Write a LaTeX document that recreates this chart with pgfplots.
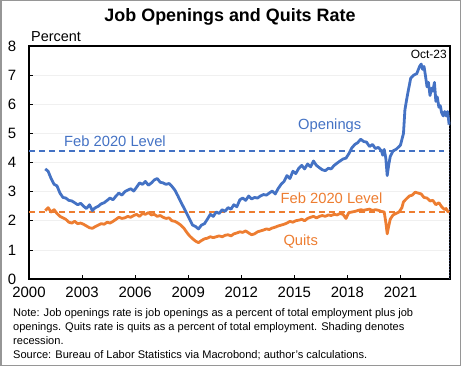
\documentclass[border=0pt]{standalone}
\usepackage{pgfplots}
\pgfplotsset{compat=1.18}
\usepackage{pgfplotstable}
\usepackage{fontspec}
\setmainfont{Liberation Sans}
\definecolor{cblue}{RGB}{68,114,196}
\definecolor{corange}{RGB}{237,125,49}
\definecolor{cframe}{RGB}{150,150,150}

\pgfplotstableread{
x y
2000.92 3.78
2001.08 3.70
2001.25 3.45
2001.42 3.25
2001.58 3.20
2001.75 2.95
2001.92 2.80
2002.08 2.78
2002.25 2.70
2002.42 2.68
2002.58 2.62
2002.75 2.55
2002.92 2.60
2003.08 2.50
2003.25 2.42
2003.42 2.55
2003.58 2.35
2003.75 2.45
2003.92 2.50
2004.08 2.58
2004.25 2.62
2004.42 2.70
2004.58 2.78
2004.75 2.72
2004.92 2.85
2005.08 2.95
2005.25 2.88
2005.42 3.00
2005.58 3.05
2005.75 3.10
2005.92 3.02
2006.08 3.15
2006.25 3.30
2006.42 3.25
2006.58 3.35
2006.75 3.22
2006.92 3.30
2007.08 3.40
2007.25 3.45
2007.42 3.32
2007.58 3.30
2007.75 3.25
2007.92 3.28
2008.08 3.18
2008.25 3.05
2008.42 2.85
2008.58 2.65
2008.75 2.45
2008.92 2.25
2009.08 2.05
2009.25 1.85
2009.42 1.80
2009.58 1.72
2009.75 1.85
2009.92 1.90
2010.08 2.05
2010.25 2.22
2010.42 2.15
2010.58 2.30
2010.75 2.25
2010.92 2.38
2011.08 2.32
2011.25 2.45
2011.42 2.40
2011.58 2.55
2011.75 2.48
2011.92 2.72
2012.08 2.78
2012.25 2.70
2012.42 2.85
2012.58 2.75
2012.75 2.80
2012.92 2.78
2013.08 2.85
2013.25 2.90
2013.42 2.88
2013.58 2.95
2013.75 3.02
2013.92 2.92
2014.08 3.10
2014.25 3.25
2014.42 3.35
2014.58 3.55
2014.75 3.45
2014.92 3.70
2015.08 3.62
2015.25 3.80
2015.42 3.90
2015.58 3.78
2015.75 3.95
2015.92 3.85
2016.08 4.05
2016.25 3.90
2016.42 3.82
2016.58 3.75
2016.75 3.72
2016.92 3.80
2017.08 3.78
2017.25 3.90
2017.42 3.98
2017.58 4.05
2017.75 4.12
2017.92 4.15
2018.08 4.30
2018.25 4.50
2018.42 4.62
2018.58 4.68
2018.75 4.80
2018.92 4.72
2019.08 4.70
2019.25 4.55
2019.42 4.62
2019.58 4.48
2019.75 4.52
2019.92 4.40
2020.00 4.25
2020.08 4.45
2020.17 4.15
2020.25 3.55
2020.33 3.90
2020.42 4.20
2020.58 4.40
2020.75 4.45
2020.92 4.55
2021.00 4.60
2021.17 5.00
2021.25 5.80
2021.33 6.10
2021.42 6.40
2021.58 6.90
2021.75 7.00
2021.92 7.05
2022.08 7.30
2022.17 7.38
2022.25 7.20
2022.33 7.30
2022.42 6.95
2022.50 6.60
2022.58 6.75
2022.67 6.30
2022.75 6.55
2022.83 6.45
2022.92 6.75
2023.00 6.10
2023.08 6.25
2023.17 5.90
2023.25 5.95
2023.33 5.70
2023.42 5.60
2023.50 5.75
2023.58 5.60
2023.67 5.75
2023.75 5.30
}\openings

\pgfplotstableread{
x y
2000.92 2.35
2001.08 2.45
2001.25 2.30
2001.42 2.38
2001.58 2.25
2001.75 2.15
2001.92 2.10
2002.08 2.05
2002.25 1.95
2002.42 1.92
2002.58 1.98
2002.75 1.90
2002.92 1.92
2003.08 1.88
2003.25 1.82
2003.42 1.76
2003.58 1.74
2003.75 1.80
2003.92 1.85
2004.08 1.90
2004.25 1.88
2004.42 1.95
2004.58 1.92
2004.75 1.98
2004.92 2.05
2005.08 2.12
2005.25 2.08
2005.42 2.10
2005.58 2.15
2005.75 2.12
2005.92 2.18
2006.08 2.22
2006.25 2.15
2006.42 2.25
2006.58 2.22
2006.75 2.28
2006.92 2.20
2007.08 2.22
2007.25 2.15
2007.42 2.18
2007.58 2.12
2007.75 2.08
2007.92 2.10
2008.08 2.00
2008.25 1.98
2008.42 1.92
2008.58 1.85
2008.75 1.75
2008.92 1.60
2009.08 1.48
2009.25 1.38
2009.42 1.30
2009.58 1.25
2009.75 1.32
2009.92 1.38
2010.08 1.40
2010.25 1.45
2010.42 1.42
2010.58 1.45
2010.75 1.48
2010.92 1.45
2011.08 1.50
2011.25 1.52
2011.42 1.48
2011.58 1.55
2011.75 1.58
2011.92 1.62
2012.08 1.60
2012.25 1.65
2012.42 1.58
2012.58 1.52
2012.75 1.55
2012.92 1.62
2013.08 1.65
2013.25 1.68
2013.42 1.72
2013.58 1.70
2013.75 1.75
2013.92 1.78
2014.08 1.82
2014.25 1.85
2014.42 1.88
2014.58 1.92
2014.75 1.98
2014.92 1.95
2015.08 2.00
2015.25 2.02
2015.42 2.05
2015.58 2.00
2015.75 2.08
2015.92 2.12
2016.08 2.15
2016.25 2.10
2016.42 2.15
2016.58 2.18
2016.75 2.15
2016.92 2.20
2017.08 2.18
2017.25 2.22
2017.42 2.20
2017.58 2.25
2017.75 2.22
2017.92 2.08
2018.08 2.28
2018.25 2.30
2018.42 2.32
2018.58 2.35
2018.75 2.38
2018.92 2.36
2019.08 2.38
2019.25 2.40
2019.42 2.35
2019.58 2.38
2019.75 2.36
2019.92 2.32
2020.08 2.30
2020.17 1.95
2020.25 1.55
2020.33 1.80
2020.42 2.05
2020.58 2.20
2020.75 2.25
2020.92 2.30
2021.08 2.45
2021.17 2.65
2021.33 2.75
2021.50 2.85
2021.67 2.88
2021.83 2.98
2022.00 2.95
2022.17 2.92
2022.33 2.80
2022.50 2.78
2022.67 2.68
2022.83 2.70
2023.00 2.55
2023.17 2.62
2023.33 2.48
2023.50 2.38
2023.58 2.42
2023.67 2.32
2023.75 2.30
}\quits

\begin{document}
\begin{tikzpicture}[x=1bp,y=1bp]
\useasboundingbox (0,0) rectangle (461,366);
\draw[cframe, line width=1.5bp] (0.75,0.75) rectangle (460.25,365.25);
\node[font=\bfseries\fontsize{18}{21}\selectfont] at (230,349) {Job Openings and Quits Rate};
\node[font=\fontsize{14.5}{17}\selectfont, anchor=west, inner sep=0] at (31,329) {Percent};
\begin{axis}[
  at={(29bp,87bp)}, anchor=south west,
  scale only axis, width=421bp, height=233bp,
  xmin=2000, xmax=2023.8, ymin=0, ymax=8,
  xtick={2000,2003,...,2021}, ytick={0,1,...,8},
  tick pos=left, tick align=inside,
  major tick length=4bp,
  tick style={black, line width=0.6bp},
  ymajorgrids, major grid style={gray!12, line width=0.6bp},
  axis line style={black, line width=1.1bp},
  /pgf/number format/assume math mode=true,
  /pgf/number format/1000 sep={},
  ticklabel style={font=\fontsize{15}{17}\selectfont},
  yticklabel style={inner sep=0, anchor=east, xshift=-12.5bp},
  xticklabel style={inner sep=0, anchor=north, yshift=-8bp},
  clip=false,
]
\addplot[cblue, line width=2.2bp, dash pattern=on 6bp off 4bp] coordinates {(2000,4.4) (2023.45,4.4)};
\addplot[corange, line width=2.2bp, dash pattern=on 6bp off 4bp] coordinates {(2000,2.3) (2023.8,2.3)};
\addplot[cblue, line width=2.8bp, line join=round] table[x=x,y=y] {\openings};
\addplot[corange, line width=2.8bp, line join=round] table[x=x,y=y] {\quits};
\addplot[color={rgb,255:red,60;green,70;blue,110}, line width=1bp, dotted] coordinates {(2023.77,0) (2023.77,5.3)};
\node[cblue, font=\fontsize{14.8}{17}\selectfont] at (axis cs:2004.86,4.72) {Feb 2020 Level};
\node[cblue, font=\fontsize{14.8}{17}\selectfont] at (axis cs:2017.0,5.26) {Openings};
\node[corange, font=\fontsize{14.8}{17}\selectfont] at (axis cs:2017.1,2.78) {Feb 2020 Level};
\node[corange, font=\fontsize{14.8}{17}\selectfont] at (axis cs:2015.36,1.28) {Quits};
\node[black, font=\fontsize{12}{14}\selectfont] at (axis cs:2022.6,7.7) {Oct-23};
\end{axis}
\begin{scope}[every node/.style={anchor=west, inner sep=0, font=\fontsize{11.1}{13}\selectfont}]
\node at (13,52.7) {Note: Job openings rate is job openings as a percent of total employment plus job};
\node at (13,38.7) {openings. Quits rate is quits as a percent of total employment. Shading denotes};
\node at (13,25.3) {recession.};
\node at (13,11) {Source: Bureau of Labor Statistics via Macrobond; author's calculations.};
\end{scope}
\end{tikzpicture}
\end{document}
